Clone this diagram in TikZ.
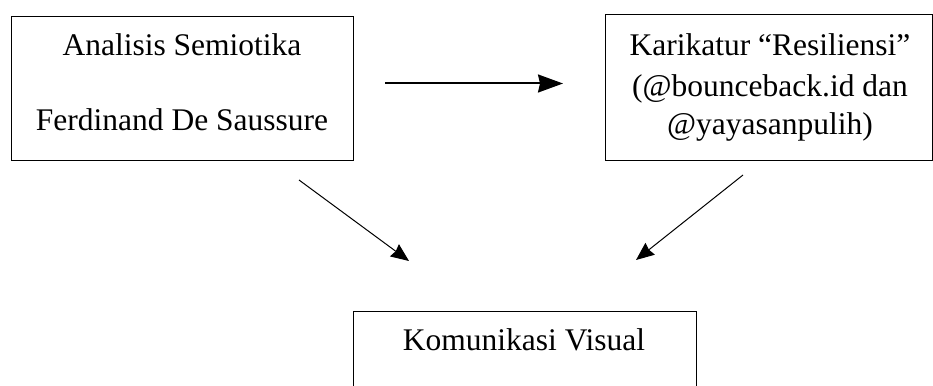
\documentclass[tikz,border=0pt]{standalone}
\usepackage{fontspec}
\setmainfont{Liberation Serif}
\usetikzlibrary{arrows.meta}
\begin{document}
\begin{tikzpicture}[x=1pt,y=-1pt,
  box/.style={draw, line width=1.2pt, inner sep=0pt, anchor=north west},
  lbl/.style={anchor=base, inner sep=0pt, font=\fontsize{31.5}{36}\selectfont},
  bigarrow/.style={line width=2pt, -{Stealth[length=25pt,width=18pt,inset=2pt]}},
  smallarrow/.style={line width=1pt, -{Stealth[length=18pt,width=15pt,inset=1.5pt]}}]
\useasboundingbox (0,0) rectangle (933,385);
% boxes
\node[box, minimum width=342pt, minimum height=144pt] (b1) at (11,16) {};
\node[box, minimum width=327pt, minimum height=146pt] (b2) at (605,14) {};
\node[box, minimum width=343pt, minimum height=90pt] (b3) at (353,311) {};
% texts
\node[lbl] (t1a) at (182,56) {Analisis Semiotika};
\node[lbl] (t1b) at (182,130) {Ferdinand De Saussure};
\node[lbl] (t2a) at (770,56) {Karikatur “Resiliensi”};
\node[lbl] (t2b) at (770,96) {(@bounceback.id dan};
\node[lbl] (t2c) at (770,135) {@yayasanpulih)};
\node[lbl] (t3) at (524,350) {Komunikasi Visual};
% arrow end points
\coordinate (h1) at (385,83.5);
\coordinate (h2) at (563,83.5);
\coordinate (d1s) at (299,180);
\coordinate (d1e) at (409,261);
\coordinate (d2s) at (743,175);
\coordinate (d2e) at (636,260);
\draw[bigarrow] (h1) -- (h2);
\draw[smallarrow] (d1s) -- (d1e);
\draw[smallarrow] (d2s) -- (d2e);
\end{tikzpicture}
\end{document}
